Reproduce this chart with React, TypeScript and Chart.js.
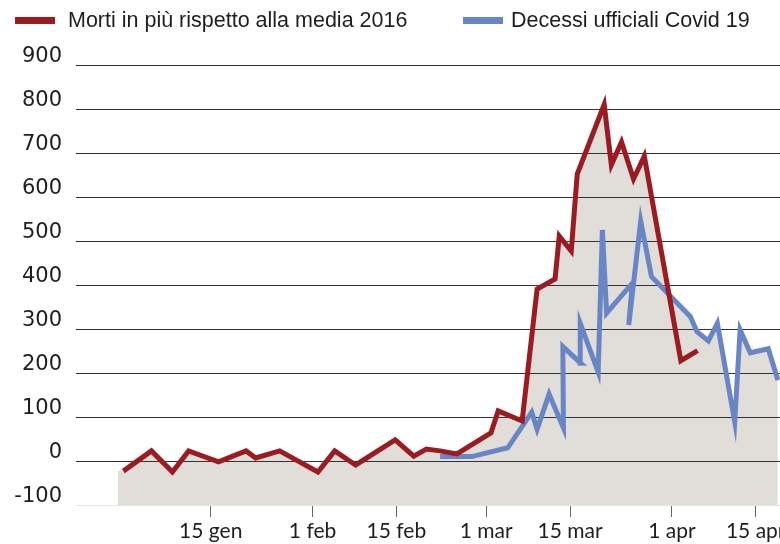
import React, { useEffect, useRef } from "react";
import { Chart, registerables } from "chart.js";

Chart.register(...registerables);

// Series labels
const seriesLabels = ["Morti in più rispetto alla media 2016", "Decessi ufficiali Covid 19"];

// Red series: excess deaths vs 2016 average (x = day of year 2020)
const redDays = [0.4, 5.1, 8.6, 11.3, 16.3, 20.9, 22.5, 26.5, 32.9, 35.7, 39.2, 45.8, 48.9, 51, 53.3, 56.1, 61.8, 63, 67, 69.5, 72.5, 73.2, 75.2, 76.2, 80.7, 81.9, 83.6, 85.6, 87.4, 93.5, 96.3];
const redValues = [-23, 23, -25, 23, -2, 23, 7, 23, -25, 23, -9, 48, 11, 27, 23, 16, 64, 114, 91, 391, 414, 511, 477, 652, 810, 673, 725, 641, 693, 228, 251];

// Blue series: official Covid-19 deaths
const blueDays = [53.3, 58.6, 64.6, 68.6, 69.5, 71.5, 73.9, 73.8, 76.8, 76.7, 79.7, 80.4, 81.1, 85.4, 84.8, 86.8, 88.6, 95.1, 96.2, 98.1, 99.6, 102.5, 103.4, 105.1, 108.1, 109.7];
const blueValues = [10, 10, 30, 111, 72, 152, 75, 260, 222, 313, 202, 525, 336, 404, 309, 545, 419, 328, 294, 273, 313, 89, 298, 246, 255, 184];

// Grey background area (upper envelope of both series)
const areaDays = [-0.5, 0.4, 5.1, 8.6, 11.3, 16.3, 20.9, 22.5, 26.5, 32.9, 35.7, 39.2, 45.8, 48.9, 51, 53.3, 56.1, 61.8, 63, 67, 69.5, 72.5, 73.2, 75.2, 76.2, 80.7, 81.9, 83.6, 85.6, 87.4, 91.5, 95.1, 96.2, 98.1, 99.6, 102.5, 103.4, 105.1, 108.1, 109.7];
const areaValues = [-22, -23, 23, -25, 23, -2, 23, 7, 23, -25, 23, -9, 48, 11, 27, 23, 16, 64, 114, 91, 391, 414, 511, 477, 652, 810, 673, 725, 641, 693, 378, 328, 294, 273, 313, 89, 298, 246, 255, 184];
const areaBase = -113;

// Axis ticks
const xTickDays = [15, 32, 46, 61, 75, 92, 106];
const xTickLabels = ["15 gen", "1 feb", "15 feb", "1 mar", "15 mar", "1 apr", "15 apr"];
const yTickValues = [-100, 0, 100, 200, 300, 400, 500, 600, 700, 800, 900];

const RED = "#9b1b20";
const BLUE = "#6886c5";
const FILL = "#e1ddd9";
const GRID_DARK = "#333333";
const GRID_LIGHT = "#e4e4e4";

const toPoints = (xs: number[], ys: number[]) => xs.map((x, i) => ({ x, y: ys[i] }));

const gridColor = (v: number) => (v === -100 ? GRID_LIGHT : GRID_DARK);

const gridOverFill = {
  id: "gridOverFill",
  afterDatasetDraw(chart: any, args: any) {
    if (args.index !== 2) return;
    const ctx = chart.ctx;
    const y = chart.scales.y;
    const { left, right } = chart.chartArea;
    ctx.save();
    ctx.lineWidth = 1;
    y.ticks.forEach((t: any) => {
      if (t.value === -100) return;
      const py = Math.round(y.getPixelForValue(t.value)) + 0.5;
      ctx.strokeStyle = gridColor(t.value);
      ctx.beginPath();
      ctx.moveTo(left, py);
      ctx.lineTo(right, py);
      ctx.stroke();
    });
    ctx.restore();
  },
};

const customLegend = {
  id: "customLegend",
  afterDraw(chart: any) {
    const ctx = chart.ctx;
    const ds = chart.data.datasets;
    const items = [
      { box: 15, text: 68, ds: ds[0] },
      { box: 463, text: 511, ds: ds[1] },
    ];
    ctx.save();
    ctx.font = '21.5px "Liberation Sans", Arial, sans-serif';
    ctx.textBaseline = "alphabetic";
    ctx.textAlign = "left";
    items.forEach((it) => {
      ctx.fillStyle = it.ds.borderColor;
      ctx.fillRect(it.box, 17, 40, 7);
      ctx.fillStyle = "#1e1e1e";
      ctx.fillText(it.ds.label, it.text, 27);
    });
    ctx.restore();
  },
};

export default function App() {
  const ref = useRef<HTMLCanvasElement>(null);

  useEffect(() => {
    if (!ref.current) return;
    const chart = new Chart(ref.current, {
      type: "line",
      data: {
        datasets: [
          {
            label: seriesLabels[0],
            data: toPoints(redDays, redValues),
            borderColor: RED,
            backgroundColor: RED,
            borderWidth: 5,
            pointRadius: 0,
            fill: false,
            tension: 0,
            borderJoinStyle: "miter",
          },
          {
            label: seriesLabels[1],
            data: toPoints(blueDays, blueValues),
            borderColor: BLUE,
            backgroundColor: BLUE,
            borderWidth: 5,
            pointRadius: 0,
            fill: false,
            tension: 0,
            borderJoinStyle: "miter",
          },
          {
            label: "area",
            data: toPoints(areaDays, areaValues),
            borderWidth: 0,
            borderColor: "rgba(0,0,0,0)",
            backgroundColor: FILL,
            pointRadius: 0,
            fill: { value: areaBase },
            tension: 0,
            clip: false as any,
          },
        ],
      },
      options: {
        animation: false,
        responsive: false,
        layout: { padding: { top: 65, left: 0, right: 0, bottom: 0 } },
        plugins: {
          legend: { display: false },
          tooltip: { enabled: false },
        },
        scales: {
          x: {
            type: "linear",
            min: -7.5,
            max: 110.06,
            z: 1,
            afterBuildTicks: (s: any) => {
              s.ticks = xTickDays.map((v) => ({ value: v }));
            },
            afterFit: (s: any) => {
              s.paddingLeft = 0;
              s.paddingRight = 0;
              s.height = 39;
            },
            ticks: {
              autoSkip: false,
              maxRotation: 0,
              padding: 2,
              color: "#1e1e1e",
              font: { family: "Lato", size: 21 },
              callback: (v: any) => {
                const i = xTickDays.indexOf(Number(v));
                return i >= 0 ? xTickLabels[i] : "";
              },
            },
            grid: {
              drawOnChartArea: false,
              drawTicks: true,
              tickLength: 12,
              color: "#666",
              lineWidth: 1,
            },
            border: { display: false },
          },
          y: {
            min: -100,
            max: 900,
            afterBuildTicks: (s: any) => {
              s.ticks = yTickValues.map((v) => ({ value: v }));
            },
            afterFit: (s: any) => {
              s.width = 76;
            },
            ticks: {
              padding: 14,
              labelOffset: -8,
              color: "#1e1e1e",
              font: { family: "DejaVu Sans", size: 21 },
            },
            grid: {
              drawTicks: false,
              color: (c: any) => gridColor(c.tick ? c.tick.value : 0),
              lineWidth: 1,
            },
            border: { display: false },
          },
        },
      },
      plugins: [gridOverFill, customLegend],
    });
    return () => chart.destroy();
  }, []);

  return (
    <div style={{ position: "absolute", left: 0, top: 0, width: 780, height: 544 }}>
      <canvas ref={ref} width={780} height={544} style={{ display: "block" }} />
    </div>
  );
}
